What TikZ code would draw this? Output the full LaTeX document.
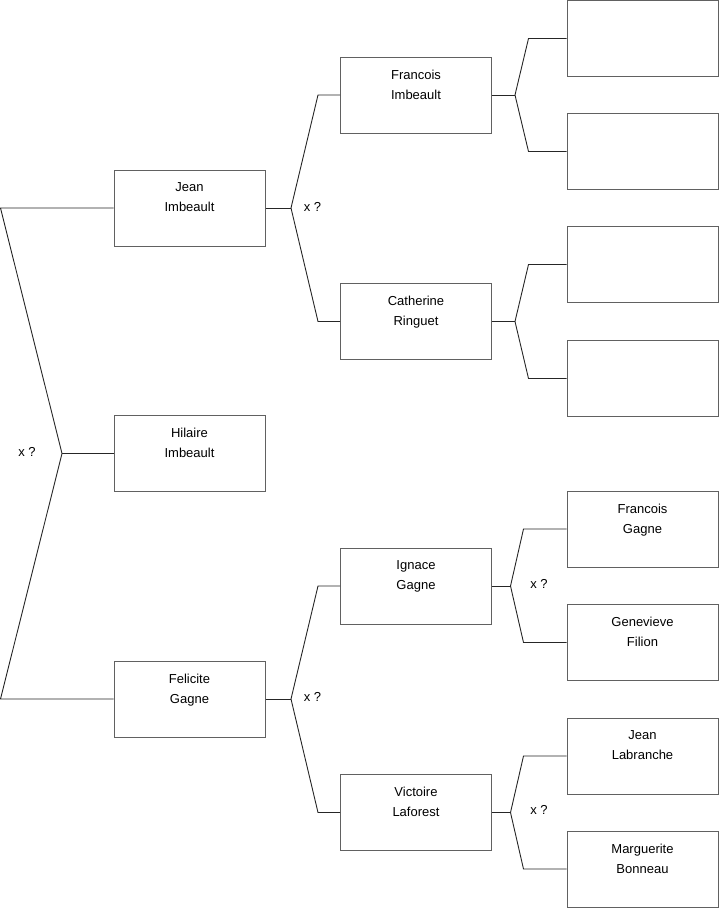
\documentclass[tikz,border=0pt]{standalone}
\usepackage{fontspec}
\setmainfont{Liberation Sans}
\usetikzlibrary{positioning}

\begin{document}
\begin{tikzpicture}[
  x=1pt, y=-1pt,
  person/.style={draw=black!62, line width=1pt, minimum width=151pt, minimum height=76pt, inner sep=0pt},
  pname/.style={anchor=north, yshift=-13pt, align=center, inner sep=0pt, font=\fontsize{13}{20}\selectfont},
  link/.style={draw=black!85, line width=0.9pt},
  couple/.style={font=\fontsize{13}{15}\selectfont, inner sep=0pt}
]
\useasboundingbox (0,0) rectangle (719,908);

% root and parents
\node[person, label={[pname]north:{Hilaire\\Imbeault}}] (hilaire) at (189.5,453.5) {};
\node[person, label={[pname]north:{Jean\\Imbeault}}] (jean) at (189.5,208) {};
\node[person, label={[pname]north:{Felicite\\Gagne}}] (felicite) at (189.5,699) {};

% grandparents
\node[person, label={[pname]north:{Francois\\Imbeault}}] (francois) at (416,95) {};
\node[person, label={[pname]north:{Catherine\\Ringuet}}] (catherine) at (416,321.5) {};
\node[person, label={[pname]north:{Ignace\\Gagne}}] (ignace) at (416,586) {};
\node[person, label={[pname]north:{Victoire\\Laforest}}] (victoire) at (416,812.5) {};

% great-grandparents
\node[person] (frfather) at (642.5,38.5) {};
\node[person] (frmother) at (642.5,151.5) {};
\node[person] (cafather) at (642.5,264.5) {};
\node[person] (camother) at (642.5,378.5) {};
\node[person, label={[pname]north:{Francois\\Gagne}}] (francoisg) at (642.5,529) {};
\node[person, label={[pname]north:{Genevieve\\Filion}}] (genevieve) at (642.5,642.5) {};
\node[person, label={[pname]north:{Jean\\Labranche}}] (jeanl) at (642.5,756) {};
\node[person, label={[pname]north:{Marguerite\\Bonneau}}] (marguerite) at (642.5,869) {};

% forks
\coordinate (hfork) at (62,453.5);
\coordinate (jfork) at (291,208);
\coordinate (ffork) at (291,699);
\coordinate (frfork) at (515,95);
\coordinate (cafork) at (515,321.5);
\coordinate (igfork) at (510.5,586);
\coordinate (vifork) at (510.5,812.5);

\node[couple] (hx) at (27,452) {x ?};
\node[couple] (jx) at (312.5,207) {x ?};
\node[couple] (fx) at (312.5,697) {x ?};
\node[couple] (ix) at (539,584) {x ?};
\node[couple] (vx) at (539,810) {x ?};

\draw[link] (hilaire.west) -- (hfork);
\draw[link] (jean.west) -- ++(-113,0) -- (hfork);
\draw[link] (felicite.west) -- ++(-113,0) -- (hfork);

\draw[link] (jean.east) -- (jfork);
\draw[link] (francois.west) -- ++(-22,0) -- (jfork);
\draw[link] (catherine.west) -- ++(-22,0) -- (jfork);

\draw[link] (felicite.east) -- (ffork);
\draw[link] (ignace.west) -- ++(-22,0) -- (ffork);
\draw[link] (victoire.west) -- ++(-22,0) -- (ffork);

\draw[link] (francois.east) -- (frfork);
\draw[link] (frfather.west) -- ++(-38,0) -- (frfork);
\draw[link] (frmother.west) -- ++(-38,0) -- (frfork);

\draw[link] (catherine.east) -- (cafork);
\draw[link] (cafather.west) -- ++(-38,0) -- (cafork);
\draw[link] (camother.west) -- ++(-38,0) -- (cafork);

\draw[link] (ignace.east) -- (igfork);
\draw[link] (francoisg.west) -- ++(-43,0) -- (igfork);
\draw[link] (genevieve.west) -- ++(-43,0) -- (igfork);

\draw[link] (victoire.east) -- (vifork);
\draw[link] (jeanl.west) -- ++(-43,0) -- (vifork);
\draw[link] (marguerite.west) -- ++(-43,0) -- (vifork);
\end{tikzpicture}
\end{document}
